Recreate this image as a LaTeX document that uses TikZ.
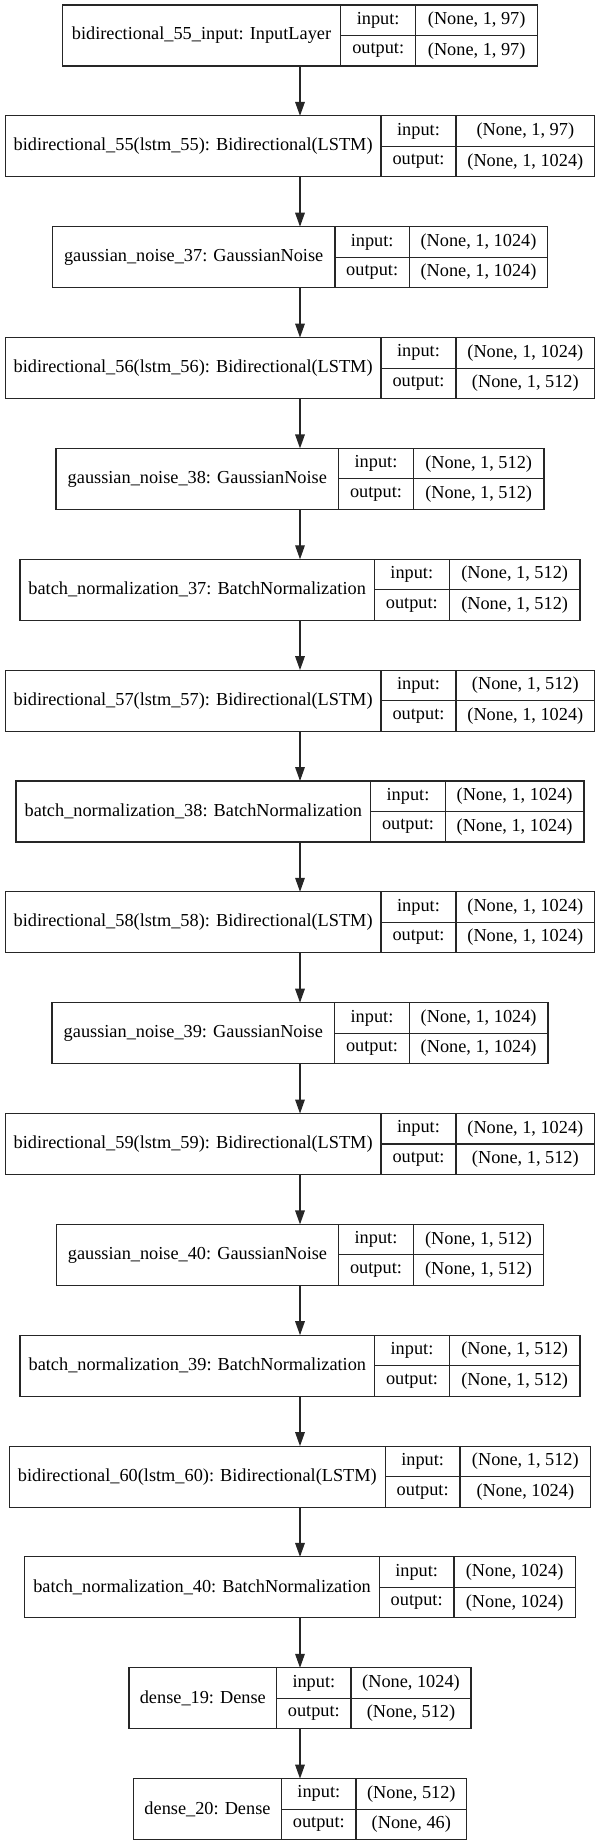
\documentclass[tikz,border=0pt]{standalone}
\usepackage{fontspec}
\setmainfont{Liberation Serif}
\usetikzlibrary{arrows.meta}
% one layer: name, top y : input split : value split : right x, label, input shape, output shape
\def\layer(#1)(#2:#3:#4:#5)#6#7#8{%
	\pgfmathsetmacro\lft{600-#5}
	\node[box, minimum width={(#5-\lft)*0.5pt}] (#1) at (300, #2+30.5) {};
	\node[cell] (#1-name) at ({(\lft+#3)/2}, #2+30.5) {#6};
	\node[tabcell, minimum width={(#4-#3)*0.5pt}] (#1-ink) at (#3, #2) {input:};
	\node[tabcell, minimum width={(#4-#3)*0.5pt}] (#1-outk) at (#3, #2+30.5) {output:};
	\node[tabcell, minimum width={(#5-#4)*0.5pt}] (#1-inv) at (#4, #2) {#7};
	\node[tabcell, minimum width={(#5-#4)*0.5pt}] (#1-outv) at (#4, #2+30.5) {#8};
}

\begin{document}
\begin{tikzpicture}[x=0.5pt, y=-0.5pt,
		font=\fontsize{9.15}{11}\selectfont,
		box/.style={draw=black!85, line width=0.55pt, minimum height=30.5pt, inner sep=0pt, outer sep=0pt},
		cell/.style={inner sep=0pt, outer sep=0pt, text=black},
		tabcell/.style={cell, draw=black!85, line width=0.55pt, minimum height=15.25pt, anchor=north west},
		link/.style={draw=black!85, line width=0.65pt, -{Triangle[length=7pt, width=4.8pt]}}]
	%%%%% START %%%%%
	\useasboundingbox (0, 0) rectangle (600, 1844);
	
	\layer(in55)(5:340.7:415.7:537.7){bidirectional\_55\_input: InputLayer}{(None, 1, 97)}{(None, 1, 97)}
	\layer(bid55)(115.9:381:456:594.7){bidirectional\_55(lstm\_55): Bidirectional(LSTM)}{(None, 1, 97)}{(None, 1, 1024)}
	\layer(gn37)(226.7:335:409.3:547.7){gaussian\_noise\_37: GaussianNoise}{(None, 1, 1024)}{(None, 1, 1024)}
	\layer(bid56)(337.6:381:456:594.7){bidirectional\_56(lstm\_56): Bidirectional(LSTM)}{(None, 1, 1024)}{(None, 1, 512)}
	\layer(gn38)(448.4:338.7:413.3:544){gaussian\_noise\_38: GaussianNoise}{(None, 1, 512)}{(None, 1, 512)}
	\layer(bn37)(559.3:374.3:449.3:580){batch\_normalization\_37: BatchNormalization}{(None, 1, 512)}{(None, 1, 512)}
	\layer(bid57)(670.1:381:456:594.7){bidirectional\_57(lstm\_57): Bidirectional(LSTM)}{(None, 1, 512)}{(None, 1, 1024)}
	\layer(bn38)(781:370.7:445.3:584){batch\_normalization\_38: BatchNormalization}{(None, 1, 1024)}{(None, 1, 1024)}
	\layer(bid58)(891.8:381:456:594.7){bidirectional\_58(lstm\_58): Bidirectional(LSTM)}{(None, 1, 1024)}{(None, 1, 1024)}
	\layer(gn39)(1002.7:334.7:409.3:548){gaussian\_noise\_39: GaussianNoise}{(None, 1, 1024)}{(None, 1, 1024)}
	\layer(bid59)(1113.5:381:456:594.7){bidirectional\_59(lstm\_59): Bidirectional(LSTM)}{(None, 1, 1024)}{(None, 1, 512)}
	\layer(gn40)(1224.4:338.7:413.3:543.7){gaussian\_noise\_40: GaussianNoise}{(None, 1, 512)}{(None, 1, 512)}
	\layer(bn39)(1335.2:374.7:449.3:580){batch\_normalization\_39: BatchNormalization}{(None, 1, 512)}{(None, 1, 512)}
	\layer(bid60)(1446.1:385.3:460:590.7){bidirectional\_60(lstm\_60): Bidirectional(LSTM)}{(None, 1, 512)}{(None, 1024)}
	\layer(bn40)(1556.9:379.3:454:575.2){batch\_normalization\_40: BatchNormalization}{(None, 1024)}{(None, 1024)}
	\layer(dense19)(1667.8:276.7:351:471){dense\_19: Dense}{(None, 1024)}{(None, 512)}
	\layer(dense20)(1778.6:281.7:356:466.7){dense\_20: Dense}{(None, 512)}{(None, 46)}
	
	\draw[link] (in55) -- (bid55);
	\draw[link] (bid55) -- (gn37);
	\draw[link] (gn37) -- (bid56);
	\draw[link] (bid56) -- (gn38);
	\draw[link] (gn38) -- (bn37);
	\draw[link] (bn37) -- (bid57);
	\draw[link] (bid57) -- (bn38);
	\draw[link] (bn38) -- (bid58);
	\draw[link] (bid58) -- (gn39);
	\draw[link] (gn39) -- (bid59);
	\draw[link] (bid59) -- (gn40);
	\draw[link] (gn40) -- (bn39);
	\draw[link] (bn39) -- (bid60);
	\draw[link] (bid60) -- (bn40);
	\draw[link] (bn40) -- (dense19);
	\draw[link] (dense19) -- (dense20);
	
	%%%%% END %%%%%
\end{tikzpicture}
\end{document}
